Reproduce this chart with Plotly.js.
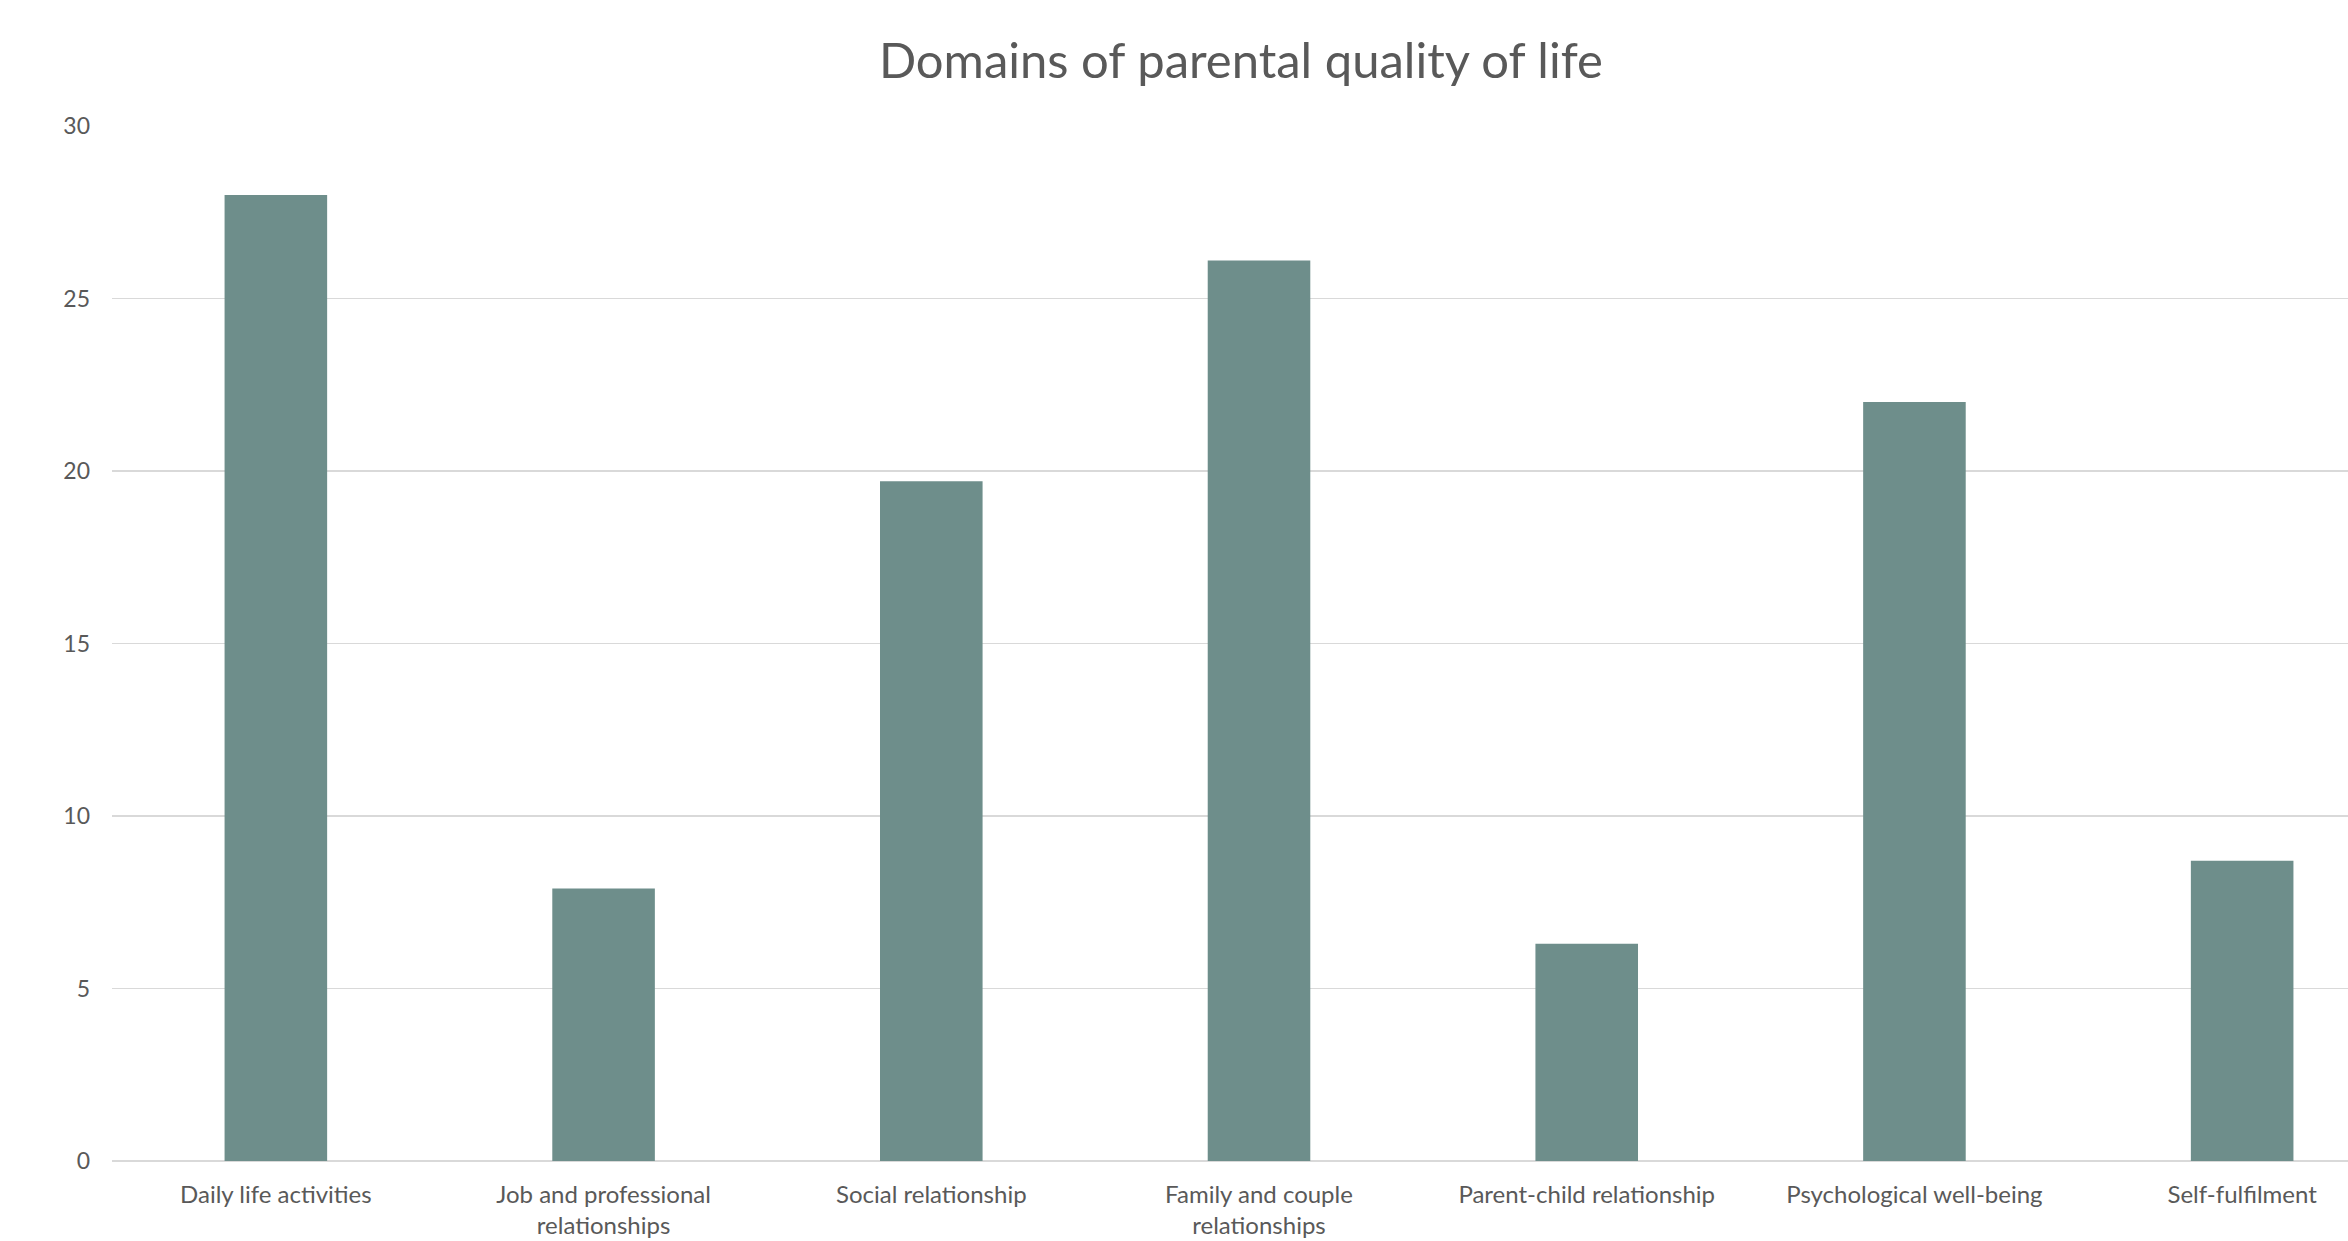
<!DOCTYPE html>
<html>
<head>
<meta charset="utf-8">
<script src="https://cdn.plot.ly/plotly-3.0.1.min.js"></script>
<style>
  html, body { margin: 0; padding: 0; background: #ffffff; overflow: hidden; }
  #chart { width: 2348px; height: 1241px; }
</style>
</head>
<body>
<div id="chart"></div>
<script>
const categories = [
  "Daily life activities",
  "Job and professional<br>relationships",
  "Social relationship",
  "Family and couple<br>relationships",
  "Parent-child relationship",
  "Psychological well-being",
  "Self-fulfilment"
];
const values = [28.0, 7.9, 19.7, 26.1, 6.3, 22.0, 8.7];
const yTicks = [0, 5, 10, 15, 20, 25, 30];
const chartTitle = "Domains of parental quality of life";

const textColor = "#595959";
const barColor = "#6E8E8B";
const gridColor = "#D9D9D9";
const fontFamily = "Lato, 'Open Sans', sans-serif";

const trace = {
  type: "bar",
  x: categories,
  y: values,
  marker: { color: barColor, line: { width: 0 } },
  hoverinfo: "x+y"
};

const layout = {
  width: 2348,
  height: 1241,
  paper_bgcolor: "#ffffff",
  plot_bgcolor: "#ffffff",
  margin: { l: 112, r: 0, t: 126, b: 80, pad: 0 },
  bargap: 0.687,
  showlegend: false,
  title: {
    text: chartTitle,
    font: { family: fontFamily, size: 49, color: textColor, weight: 400 },
    x: 0.5285,
    xanchor: "center",
    xref: "container",
    y: 1 - 61 / 1241,
    yanchor: "middle",
    yref: "container"
  },
  xaxis: {
    type: "category",
    range: [-0.5, 6.323],
    showgrid: false,
    showline: false,
    zeroline: false,
    ticks: "",
    tickfont: { family: fontFamily, size: 24, color: textColor },
    ticklabelstandoff: 17,
    automargin: false
  },
  yaxis: {
    range: [0, 30],
    tickvals: yTicks,
    ticktext: yTicks.map(String),
    showgrid: true,
    gridcolor: gridColor,
    gridwidth: 1.5,
    zeroline: true,
    zerolinecolor: gridColor,
    zerolinewidth: 2,
    showline: false,
    ticks: "",
    tickfont: { family: fontFamily, size: 23, color: textColor },
    ticklabelstandoff: 21,
    automargin: false
  }
};

Plotly.newPlot("chart", [trace], layout, { displayModeBar: false, staticPlot: true });
</script>
</body>
</html>
